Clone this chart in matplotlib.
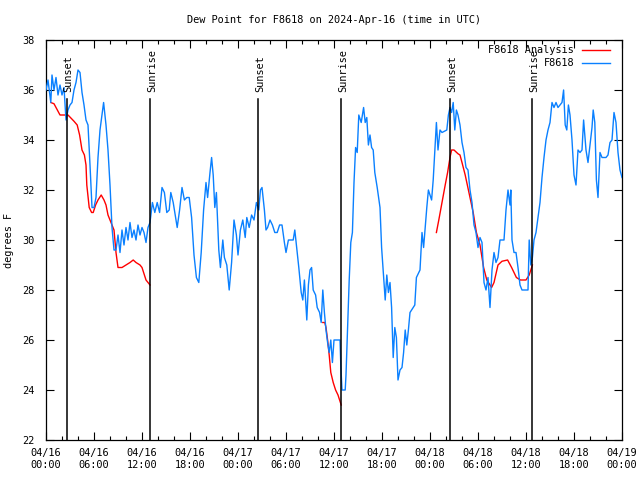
import numpy as np
import matplotlib
matplotlib.use("Agg")
import matplotlib.pyplot as plt
import matplotlib.transforms as mtransforms

# ---------------- data ----------------
title = "Dew Point for F8618 on 2024-Apr-16 (time in UTC)"
ylabel = "degrees F"

# hours since 2024-04-16 00:00 UTC
obs_hours = [0.0, 0.25, 0.6, 0.75, 1.0, 1.25, 1.5, 1.75, 2.0, 2.25, 2.5, 2.75, 3.0, 3.25, 3.5,
             3.75, 4.0, 4.25, 4.5, 4.75, 5.0, 5.25, 5.5, 5.75, 6.0, 6.25, 6.5, 6.75, 7.0, 7.2,
             7.5, 7.75, 8.0, 8.25, 8.5, 8.75, 9.0, 9.25, 9.5, 9.75, 10.0, 10.25, 10.5, 10.75,
             11.0, 11.25, 11.5, 11.75, 12.0, 12.25, 12.5, 12.75,
             13.0, 13.3, 13.6, 13.9, 14.2, 14.5, 14.8, 15.1, 15.4, 15.6, 15.9, 16.2, 16.4, 16.7,
             17.0, 17.3, 17.6, 17.9, 18.2, 18.5, 18.8, 19.1, 19.4, 19.7, 20.0, 20.2, 20.5, 20.7,
             20.9, 21.1, 21.3, 21.6, 21.8, 22.1, 22.3, 22.6, 22.9, 23.2, 23.5, 23.8, 24.0, 24.3,
             24.6, 24.9, 25.1, 25.4, 25.7, 26.0, 26.3, 26.6, 26.8, 27.0, 27.3, 27.5, 27.7, 28.0,
             28.3, 28.6, 28.9, 29.2, 29.5, 29.8, 30.0, 30.3, 30.6, 30.9, 31.1, 31.3, 31.6, 31.9,
             32.1, 32.3, 32.6, 32.8, 33.0, 33.2, 33.4, 33.7, 33.9, 34.2, 34.4, 34.6, 34.8, 35.0,
             35.2, 35.4, 35.6, 35.8, 36.0, 36.4, 36.75, 36.85, 37.0, 37.4, 37.5, 37.7, 37.9,
             38.1, 38.3, 38.5, 38.7, 38.9, 39.1, 39.4, 39.7, 39.9, 40.1, 40.3, 40.5, 40.7, 40.9,
             41.1, 41.4, 41.75, 41.95, 42.2, 42.4, 42.6, 42.8, 43.0, 43.2, 43.4, 43.6, 43.8,
             44.0, 44.25, 44.5, 44.7, 44.9, 45.1, 45.3, 45.5, 45.7, 46.1, 46.3, 46.75, 47.0,
             47.2, 47.6, 47.8, 48.2, 48.4, 48.8, 49.0, 49.25, 49.5, 50.1,
             50.3, 50.5, 50.7, 50.9, 51.1, 51.3, 51.5, 51.75, 52.0, 52.25, 52.5, 52.75, 53.0,
             53.25, 53.5, 53.75, 54.0, 54.25, 54.5, 54.75, 55.0, 55.25, 55.5, 55.75, 56.0, 56.25,
             56.5, 56.75, 57.0, 57.25, 57.5, 57.75, 58.0, 58.1, 58.25, 58.5, 58.75, 59.0, 59.25,
             59.5, 59.75, 60.0, 60.25, 60.4, 60.6, 60.8, 61.0, 61.25, 61.5, 61.75, 62.0, 62.25,
             62.5, 62.75, 63.0, 63.25, 63.5, 63.75, 64.0, 64.25, 64.5, 64.7, 64.9, 65.1, 65.3,
             65.5, 65.75, 66.0, 66.25, 66.5, 66.75, 67.0, 67.2, 67.5, 67.75, 68.0, 68.25, 68.4,
             68.6, 68.8, 69.0, 69.25, 69.5, 69.75, 70.0, 70.25, 70.5, 70.75, 71.0, 71.25, 71.5,
             71.75, 72.0]
obs_values = [36.0, 36.4, 35.5, 36.6, 36.0, 36.5, 35.8, 36.2, 35.8, 36.1, 34.8, 35.2, 35.4, 35.5, 36.0,
              36.3, 36.8, 36.7, 35.9, 35.4, 34.8, 34.6, 33.0, 31.3, 31.3, 31.7, 33.3, 34.4, 35.0, 35.5,
              34.6, 33.6, 32.2, 30.5, 29.6, 29.6, 30.2, 29.5, 30.4, 29.8, 30.5, 30.0, 30.7, 30.1,
              30.4, 30.0, 30.6, 30.2, 30.5, 30.3, 29.9, 30.5,
              30.7, 31.5, 31.1, 31.5, 31.1, 32.1, 31.9, 31.1, 31.2, 31.9, 31.5, 30.9, 30.5, 31.2,
              32.1, 31.6, 31.7, 31.7, 30.9, 29.4, 28.5, 28.3, 29.5, 31.2, 32.3, 31.7, 32.7, 33.3,
              32.6, 31.3, 31.9, 29.6, 28.9, 30.0, 29.3, 29.0, 28.0, 29.1, 30.8, 30.2, 29.4, 30.4,
              30.8, 30.1, 30.9, 30.5, 31.0, 30.8, 31.5, 31.2, 32.0, 32.1, 31.2, 30.4, 30.5, 30.8,
              30.6, 30.3, 30.3, 30.6, 30.6, 29.9, 29.5, 30.0, 30.0, 30.0, 30.4, 29.8, 28.9, 27.9,
              27.6, 28.4, 26.8, 28.2, 28.8, 28.9, 28.0, 27.8, 27.3, 27.1, 26.7, 28.0, 27.1, 26.4,
              25.9, 25.5, 26.0, 25.1, 26.0, 26.0, 26.0, 25.0, 24.0, 24.0, 24.6, 26.5, 28.4,
              29.9, 30.3, 32.3, 33.7, 33.5, 35.0, 34.7, 35.3, 34.7, 34.9, 33.8, 34.2, 33.7, 33.6,
              32.7, 32.1, 31.3, 29.7, 28.5, 27.6, 28.6, 27.9, 28.3, 27.3, 25.3, 26.5, 26.1,
              24.4, 24.8, 24.9, 25.5, 26.4, 25.8, 26.4, 27.1, 27.2, 27.4, 28.5, 28.8, 30.3,
              29.7, 31.3, 32.0, 31.6, 32.4, 34.7, 33.6, 34.4, 34.3, 34.4,
              35.0, 35.3, 35.1, 35.5, 34.4, 35.2, 35.0, 34.6, 33.9, 33.5, 32.9, 32.8, 32.0,
              31.5, 30.6, 30.3, 29.7, 30.1, 29.9, 28.3, 28.0, 28.5, 27.3, 28.8, 29.5, 29.1,
              29.3, 30.0, 30.0, 30.0, 31.2, 32.0, 31.4, 32.0, 30.0, 29.5, 29.5, 28.9, 28.2,
              28.0, 28.0, 28.0, 28.0, 30.0, 29.0, 29.3, 30.0, 30.3, 30.9, 31.5, 32.5, 33.3,
              34.0, 34.4, 34.7, 35.5, 35.3, 35.5, 35.3, 35.4, 35.5, 36.0, 34.6, 34.4, 35.4,
              35.0, 34.0, 32.6, 32.2, 33.6, 33.5, 33.6, 34.8, 33.6, 33.1, 33.8, 34.5, 35.2,
              34.7, 32.4, 31.7, 33.5, 33.3, 33.3, 33.3, 33.4, 33.9, 34.0, 35.1, 34.7, 33.5,
              32.8, 32.5]

# analysis series (NaN = no analysis)
ana_hours = [0.6, 1.0, 1.75, 2.75, 3.5, 3.9, 4.2, 4.5, 4.8, 5.0, 5.1, 5.4, 5.7, 5.9, 6.2,
             6.5, 6.9, 7.25, 7.5, 7.75, 8.0, 8.25, 8.5, 8.75, 9.0, 9.5, 10.0, 10.5, 10.9,
             11.25, 11.75, 12.0, 12.5, 13.0,
             20.0,
             34.6, 34.85, 35.0, 35.2, 35.4, 35.6, 35.9, 36.2, 36.5, 36.9,
             42.0,
             48.8, 49.1, 49.5, 49.9, 50.2, 50.5, 50.7, 51.0, 51.5, 51.75, 52.0, 52.4, 52.8, 53.0,
             53.4, 53.8, 54.25, 54.7, 55.1, 55.7, 56.0, 56.5, 57.0, 57.7, 58.2, 58.8, 59.3, 60.0,
             60.4, 60.8]
ana_values = [35.5, 35.45, 35.0, 35.0, 34.75, 34.6, 34.2, 33.6, 33.4, 33.0, 32.2, 31.3, 31.1,
              31.1, 31.4, 31.6, 31.8, 31.6, 31.4, 31.0, 30.8, 30.6, 30.4, 29.5, 28.9, 28.9,
              29.0, 29.1, 29.2, 29.1, 29.0, 28.9, 28.4, 28.2,
              np.nan,
              26.7, 26.7, 26.5, 26.0, 25.4, 24.7, 24.3, 24.0, 23.8, 23.4,
              np.nan,
              30.3, 30.8, 31.5, 32.2, 32.7, 33.3, 33.6, 33.6, 33.45, 33.4, 33.1, 32.6, 32.0, 31.7,
              31.1, 30.3, 29.8, 28.9, 28.4, 28.1, 28.3, 29.0, 29.15, 29.2, 28.9, 28.5, 28.4, 28.4,
              28.6, 29.0]

event_hours = [2.58, 13.0, 26.54, 36.9, 50.5, 60.79]
event_labels = ["Sunset", "Sunrise", "Sunset", "Sunrise", "Sunset", "Sunrise"]

xtick_hours = [0, 6, 12, 18, 24, 30, 36, 42, 48, 54, 60, 66, 72]
xtick_labels = ["04/16\n00:00", "04/16\n06:00", "04/16\n12:00", "04/16\n18:00",
                "04/17\n00:00", "04/17\n06:00", "04/17\n12:00", "04/17\n18:00",
                "04/18\n00:00", "04/18\n06:00", "04/18\n12:00", "04/18\n18:00",
                "04/19\n00:00"]
yticks = [22, 24, 26, 28, 30, 32, 34, 36, 38]

legend_labels = ["F8618 Analysis", "F8618"]

# ---------------- plot ----------------
plt.rcParams['font.family'] = ['DejaVu Sans Mono']
FS = 7.4
RED = "#ff0000"
BLUE = "#0a80ff"

fig = plt.figure(figsize=(6.4, 4.8), dpi=100)
ax = fig.add_axes([46 / 640, 40 / 480, 576 / 640, 400 / 480])

ax.plot(ana_hours, ana_values, color=RED, lw=1.0, zorder=3)
ax.plot(obs_hours, obs_values, color=BLUE, lw=1.0, zorder=4)

trans = mtransforms.blended_transform_factory(ax.transData, ax.transAxes)
off = mtransforms.ScaledTranslation(2 / 100, 0, fig.dpi_scale_trans)
for h, lab in zip(event_hours, event_labels):
    ax.plot([h, h], [0, 0.8525], color="black", lw=1.1, transform=trans, zorder=5)
    ax.text(h, 0.87, lab, rotation=90, ha="center", va="bottom",
            fontsize=FS, transform=trans + off, zorder=6)

ax.set_xlim(0, 72)
ax.set_ylim(22, 38)
ax.set_xticks(xtick_hours)
ax.set_xticklabels(xtick_labels)
ax.set_xticks(np.arange(0, 73, 2), minor=True)
ax.set_yticks(yticks)
ax.tick_params(axis="both", which="both", direction="in", top=True, right=True,
               labelsize=FS, width=0.8)
ax.tick_params(axis="both", which="major", length=6)
ax.tick_params(axis="both", which="minor", length=3)
ax.tick_params(axis="x", pad=6)
ax.tick_params(axis="y", pad=8)
for s in ax.spines.values():
    s.set_linewidth(0.9)

ax.set_ylabel(ylabel, fontsize=FS, labelpad=6)
ax.text(0.5, 1 + 20 / 400, title, ha="center", va="center", fontsize=FS,
        transform=ax.transAxes)

# legend (gnuplot style: right-aligned text, sample to the right)
for i, (lab, col) in enumerate(zip(legend_labels, [RED, BLUE])):
    yy = 0.975 - i * 0.0325
    ax.text(0.917, yy, lab, ha="right", va="center", fontsize=FS,
            transform=ax.transAxes, zorder=7)
    ax.plot([0.931, 0.979], [yy, yy], color=col, lw=1.0, transform=ax.transAxes,
            zorder=7, clip_on=False)

fig.savefig("out.png", dpi=100)
